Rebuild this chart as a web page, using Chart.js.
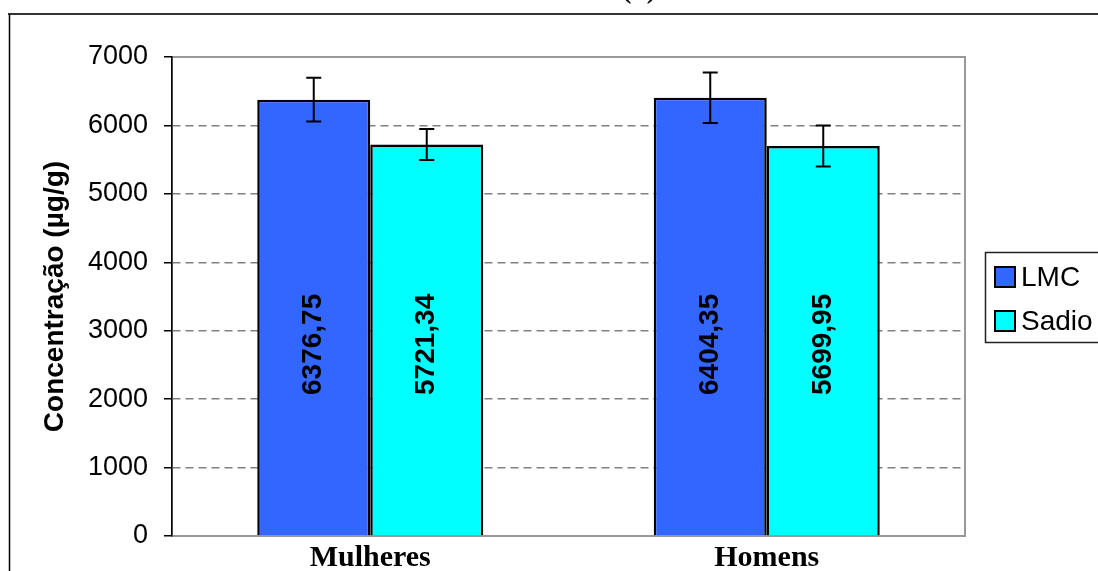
<!DOCTYPE html>
<html>
<head>
<meta charset="utf-8">
<script src="https://cdn.jsdelivr.net/npm/chart.js@4.4.0/dist/chart.umd.min.js"></script>
<style>
  html, body { margin: 0; padding: 0; background: #fff; }
  canvas { display: block; }
</style>
</head>
<body>
<canvas id="concChart" width="1098" height="571"></canvas>
<script>
// Data
const groups = ['Mulheres', 'Homens'];
const lmcValues = [6376.75, 6404.35];
const lmcErrors = [320, 370];
const sadioValues = [5721.34, 5699.95];
const sadioErrors = [225, 300];
const yTicks = [0, 1000, 2000, 3000, 4000, 5000, 6000, 7000];

const sans = '"Liberation Sans", Arial, sans-serif';
const serif = '"Liberation Serif", "Times New Roman", serif';

// frame, panel title and plot-area box
const framePlugin = {
    id: 'frame',
    beforeDraw(chart) {
        const ctx = chart.ctx;
        const a = chart.chartArea;
        ctx.save();
        ctx.fillStyle = '#fff';
        ctx.fillRect(0, 0, chart.width, chart.height);
        ctx.strokeStyle = '#999';
        ctx.lineWidth = 2;
        ctx.strokeRect(a.left, a.top, a.right - a.left, a.bottom - a.top);
        ctx.restore();
    },
    afterDraw(chart) {
        const ctx = chart.ctx;
        ctx.save();
        ctx.strokeStyle = '#333';
        ctx.lineWidth = 2;
        ctx.beginPath();
        ctx.moveTo(8, 14);
        ctx.lineTo(chart.width, 14);
        ctx.stroke();
        ctx.strokeStyle = '#000';
        ctx.lineWidth = 1.5;
        ctx.beginPath();
        ctx.moveTo(9.5, 14);
        ctx.lineTo(9.5, chart.height);
        ctx.stroke();
        ctx.fillStyle = '#000';
        ctx.font = 'bold 28px ' + serif;
        ctx.textAlign = 'center';
        ctx.textBaseline = 'alphabetic';
        ctx.fillText('(b)', 639, -2);
        ctx.restore();
    }
};

// error bars and rotated value labels inside the bars
const barExtras = {
    id: 'barExtras',
    afterDatasetsDraw(chart) {
        const ctx = chart.ctx;
        const y = chart.scales.y;
        const errs = [lmcErrors, sadioErrors];
        ctx.save();
        chart.data.datasets.forEach((ds, di) => {
            const meta = chart.getDatasetMeta(di);
            meta.data.forEach((bar, i) => {
                const v = ds.data[i];
                const e = errs[di][i];
                const yt = y.getPixelForValue(v + e);
                const yb = y.getPixelForValue(v - e);
                ctx.strokeStyle = '#000';
                ctx.lineWidth = 2;
                ctx.beginPath();
                ctx.moveTo(bar.x, yt); ctx.lineTo(bar.x, yb);
                ctx.moveTo(bar.x - 7.5, yt); ctx.lineTo(bar.x + 7.5, yt);
                ctx.moveTo(bar.x - 7.5, yb); ctx.lineTo(bar.x + 7.5, yb);
                ctx.stroke();

                ctx.save();
                ctx.translate(bar.x, y.getPixelForValue(2800));
                ctx.rotate(-Math.PI / 2);
                ctx.fillStyle = '#000';
                ctx.font = 'bold 28px ' + sans;
                ctx.textAlign = 'center';
                ctx.textBaseline = 'middle';
                ctx.fillText(v.toFixed(2).replace('.', ','), 0, 0);
                ctx.restore();
            });
        });
        ctx.restore();
    }
};

// boxed legend on the right
const boxLegend = {
    id: 'boxLegend',
    afterDraw(chart) {
        const ctx = chart.ctx;
        ctx.save();
        ctx.strokeStyle = '#222';
        ctx.lineWidth = 1.5;
        ctx.strokeRect(985.5, 252.5, 200, 90);
        chart.data.datasets.forEach((ds, i) => {
            const cy = 277 + i * 44;
            ctx.fillStyle = ds.backgroundColor;
            ctx.fillRect(995, cy - 10, 20, 20);
            ctx.strokeStyle = '#000';
            ctx.lineWidth = 2;
            ctx.strokeRect(995, cy - 10, 20, 20);
            ctx.fillStyle = '#000';
            ctx.font = '28px ' + sans;
            ctx.textAlign = 'left';
            ctx.textBaseline = 'middle';
            ctx.fillText(ds.label, 1021, cy + 1);
        });
        ctx.restore();
    }
};

new Chart(document.getElementById('concChart'), {
    type: 'bar',
    data: {
        labels: groups,
        datasets: [
            { label: 'LMC', data: lmcValues, backgroundColor: '#3366FF', borderColor: '#000', borderWidth: 2.5 },
            { label: 'Sadio', data: sadioValues, backgroundColor: '#00FFFF', borderColor: '#000', borderWidth: 2.5 }
        ]
    },
    options: {
        responsive: false,
        animation: false,
        layout: { padding: { top: 57, right: 133, bottom: 0, left: 0 } },
        datasets: { bar: { categoryPercentage: 0.57, barPercentage: 1.0 } },
        plugins: { legend: { display: false }, tooltip: { enabled: false } },
        scales: {
            x: {
                afterFit: s => { s.height = 35; },
                grid: { display: false, drawTicks: false },
                border: { display: true, color: '#999', width: 2 },
                ticks: { color: '#000', padding: 4, font: { family: serif, size: 30, weight: 'bold' } }
            },
            y: {
                min: 0,
                max: 7000,
                afterFit: s => { s.width = 172; },
                afterBuildTicks: s => { s.ticks = yTicks.map(v => ({ value: v })); },
                grid: {
                    color: c => (c.tick && (c.tick.value === 0 || c.tick.value === 7000)) ? 'rgba(0,0,0,0)' : '#808080',
                    lineWidth: 1.5,
                    tickColor: '#000',
                    tickWidth: 1.5,
                    tickLength: 8
                },
                border: { display: true, color: '#000', width: 1.5, dash: [8, 5] },
                ticks: {
                    color: '#000',
                    padding: 16,
                    font: { family: sans, size: 27 },
                    callback: v => String(v)
                },
                title: {
                    display: true,
                    text: 'Concentração (µg/g)',
                    color: '#000',
                    font: { family: sans, size: 28, weight: 'bold' },
                    padding: { top: 38, bottom: 0 }
                }
            }
        }
    },
    plugins: [framePlugin, barExtras, boxLegend]
});
</script>
</body>
</html>
